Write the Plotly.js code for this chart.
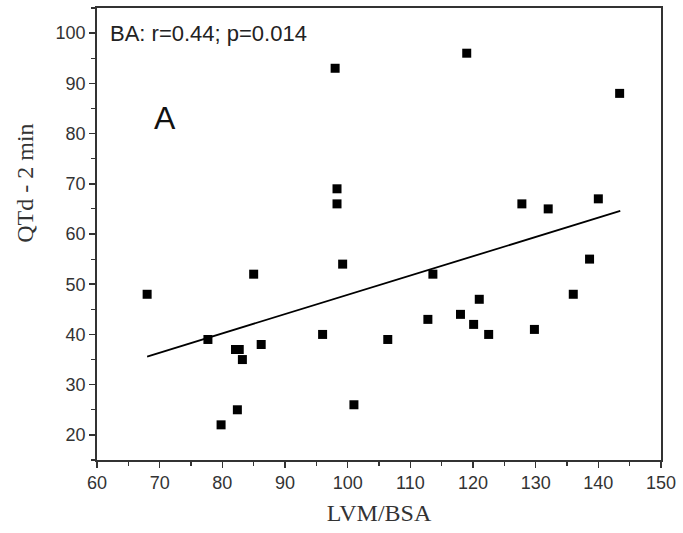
<!DOCTYPE html>
<html><head><meta charset="utf-8">
<script src="https://cdn.plot.ly/plotly-3.0.1.min.js"></script>
<style>body{margin:0;background:#fff}#chart{width:683px;height:533px}</style>
</head><body><div id="chart"></div>
<script>
const lvmBsa = [68, 77.7, 79.8, 82.1, 82.7, 82.4, 83.2, 85, 86.2, 96, 98, 98.3, 98.3, 99.2, 101, 106.4, 112.8, 113.6, 118, 119, 120.1, 121, 122.5, 127.8, 129.8, 132, 136, 138.6, 140, 143.4];
const qtd2min = [48, 39, 22, 37, 37, 25, 35, 52, 38, 40, 93, 69, 66, 54, 26, 39, 43, 52, 44, 96, 42, 47, 40, 66, 41, 65, 48, 55, 67, 88];
const fitX = [68, 143.5];
const fitY = [35.6, 64.6];
const xTicks = [60, 70, 80, 90, 100, 110, 120, 130, 140, 150];
const yTicks = [20, 30, 40, 50, 60, 70, 80, 90, 100];

const axisCommon = {
  showline: true, linecolor: '#333', linewidth: 1.8, mirror: true,
  ticks: 'outside', ticklen: 6, tickwidth: 1.5, tickcolor: '#333',
  showgrid: false, zeroline: false,
  tickfont: {family: 'Liberation Sans, Arial, sans-serif', size: 18, color: '#333'},
  minor: {dtick: 5, ticks: 'outside', ticklen: 4, tickwidth: 1.2, tickcolor: '#333', showgrid: false}
};

const data = [
  {x: lvmBsa, y: qtd2min, type: 'scatter', mode: 'markers',
   marker: {symbol: 'square', size: 9, color: '#000'}, showlegend: false},
  {x: fitX, y: fitY, type: 'scatter', mode: 'lines',
   line: {color: '#000', width: 1.8}, showlegend: false}
];

const layout = {
  width: 683, height: 533,
  margin: {l: 97, r: 22, t: 8, b: 73},
  paper_bgcolor: '#fff', plot_bgcolor: '#fff',
  xaxis: Object.assign({}, axisCommon, {
    range: [60, 150], tickvals: xTicks, ticktext: xTicks.map(String),
    title: {text: 'LVM/BSA', font: {family: 'Liberation Serif, Times New Roman, serif', size: 24, color: '#333'}, standoff: 12}
  }),
  yaxis: Object.assign({}, axisCommon, {
    range: [15, 105], tickvals: yTicks, ticktext: yTicks.map(String)
  }),
  annotations: [
    {xref: 'paper', yref: 'paper', x: -0.128, y: 0.613, xanchor: 'center', yanchor: 'middle',
     text: 'QTd - 2 min', showarrow: false, textangle: -90,
     font: {family: 'Liberation Serif, Times New Roman, serif', size: 24, color: '#333'}},
    {xref: 'paper', yref: 'paper', x: 0.02, y: 0.975, xanchor: 'left', yanchor: 'top',
     text: 'BA: r=0.44; p=0.014', showarrow: false,
     font: {family: 'Liberation Sans, Arial, sans-serif', size: 22, color: '#222'}},
    {xref: 'paper', yref: 'paper', x: 0.098, y: 0.757, xanchor: 'left', yanchor: 'middle',
     text: 'A', showarrow: false,
     font: {family: 'Liberation Sans, Arial, sans-serif', size: 32, color: '#111'}}
  ]
};

Plotly.newPlot('chart', data, layout, {displayModeBar: false, staticPlot: true});
</script></body></html>
